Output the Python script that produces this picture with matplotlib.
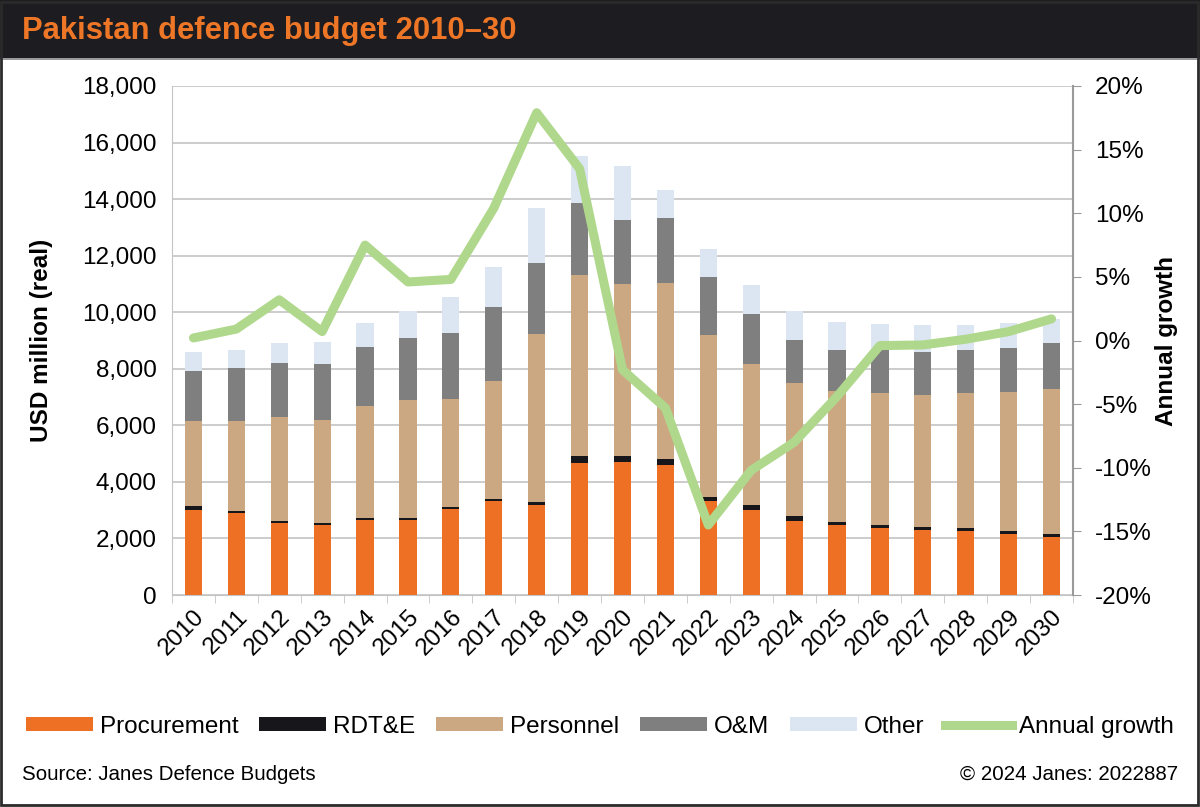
"""Pakistan defence budget 2010-30: stacked bars by category plus annual growth line."""
import matplotlib
matplotlib.use("Agg")
import matplotlib.pyplot as plt
import numpy as np
from matplotlib.patches import Rectangle
from matplotlib.lines import Line2D

plt.rcParams["font.family"] = ["Liberation Sans", "DejaVu Sans"]

years = [str(y) for y in range(2010, 2031)]

# USD million (real)
procurement = [3000, 2890, 2535, 2465, 2650, 2650, 3030, 3310, 3195, 4680, 4690,
               4595, 3335, 3005, 2630, 2475, 2355, 2300, 2265, 2155, 2040]
rdte = [130, 70, 70, 70, 70, 70, 70, 95, 95, 235, 235, 215, 140, 190, 165, 105,
        120, 105, 90, 95, 130]
personnel = [3030, 3205, 3675, 3655, 3975, 4175, 3820, 4150, 5940, 6410, 6060,
             6210, 5705, 4985, 4690, 4620, 4655, 4665, 4775, 4915, 5105]
om = [1770, 1865, 1935, 1990, 2065, 2205, 2355, 2630, 2510, 2525, 2275, 2300,
      2065, 1745, 1530, 1475, 1520, 1535, 1545, 1555, 1625]
other = [650, 620, 695, 765, 860, 930, 1250, 1415, 1945, 1675, 1900, 1010, 990,
         1025, 1040, 970, 945, 945, 875, 890, 850]

# annual growth, %
growth = [0.2, 0.9, 3.2, 0.7, 7.5, 4.6, 4.8, 10.4, 17.9, 13.5, -2.3, -5.3,
          -14.5, -10.2, -8.0, -4.4, -0.4, -0.35, 0.1, 0.7, 1.7]

series = [
    ("Procurement", procurement, "#EE7024"),
    ("RDT&E", rdte, "#17171b"),
    ("Personnel", personnel, "#CBA882"),
    ("O&M", om, "#7f7f7f"),
    ("Other", other, "#DCE6F2"),
]
GREEN = "#B0D88C"
GRID = "#c4c4c4"
FS = 17.5

fig = plt.figure(figsize=(12, 8.07), dpi=100)
fig.patch.set_facecolor("white")

# header band
fig.patches.append(Rectangle((0, 1 - 58 / 807), 1, 58 / 807, transform=fig.transFigure,
                             facecolor="#1c1c21", edgecolor="none", zorder=0))
fig.patches.append(Rectangle((0, 1 - 60 / 807), 1, 2 / 807, transform=fig.transFigure,
                             facecolor="#9a9a9a", edgecolor="none", zorder=0))
fig.patches.append(Rectangle((0.001, 0.002), 0.997, 0.996, transform=fig.transFigure,
                             facecolor="none", edgecolor="#2a2a2a", linewidth=2, zorder=5))
fig.text(22 / 1200, 1 - 31 / 807, "Pakistan defence budget 2010\u201330", color="#EE7627",
         fontsize=22.3, fontweight="bold", va="center", ha="left")

ax = fig.add_axes([172 / 1200, 1 - 595 / 807, (1073 - 172) / 1200, (595 - 86) / 807])
x = np.arange(len(years))
bottom = np.zeros(len(years))
handles = []
for name, vals, color in series:
    ax.bar(x, vals, width=0.4, bottom=bottom, color=color, zorder=2, label=name)
    bottom += np.array(vals)
    handles.append(Rectangle((0, 0), 1, 1, facecolor=color))

ax.set_xlim(-0.5, len(years) - 0.5)
ax.set_ylim(0, 18000)
ax.set_yticks(range(0, 18001, 2000))
ax.set_yticklabels([f"{v:,}" for v in range(0, 18001, 2000)], fontsize=FS)
ax.grid(axis="y", color=GRID, linewidth=1.2, zorder=0)
ax.set_axisbelow(True)
ax.set_xticks(x)
ax.set_xticklabels(years, rotation=45, ha="right", rotation_mode="anchor", fontsize=FS)
ax.set_xticks(np.arange(-0.5, len(years), 1), minor=True)
ax.tick_params(axis="x", which="major", length=0, pad=8)
ax.tick_params(axis="x", which="minor", length=6, color=GRID)
ax.tick_params(axis="y", length=0, pad=11)
ax.set_ylabel("USD million (real)", fontsize=FS, fontweight="bold", labelpad=21)
for side in ("top", "right"):
    ax.spines[side].set_visible(False)
ax.spines["left"].set_color(GRID)
ax.spines["bottom"].set_color(GRID)

ax2 = ax.twinx()
ax2.plot(x, growth, color=GREEN, linewidth=6.5, solid_joinstyle="round",
         solid_capstyle="round", zorder=3)
ax2.set_ylim(-20, 20)
ax2.set_yticks(range(-20, 21, 5))
ax2.set_yticklabels([f"{v}%" for v in range(-20, 21, 5)], fontsize=FS)
ax2.tick_params(axis="y", length=6, color="#9a9a9a", pad=10)
ax2.set_ylabel("Annual growth", fontsize=FS, fontweight="bold", labelpad=2)
for side in ("top", "left", "bottom"):
    ax2.spines[side].set_visible(False)
ax2.spines["right"].set_color("#9a9a9a")
ax2.spines["right"].set_linewidth(1.5)

handles.append(Line2D([0], [0], color=GREEN, linewidth=6.5))
labels = [s[0] for s in series] + ["Annual growth"]
fig.legend(handles, labels, loc="center", bbox_to_anchor=(0.5, 1 - 727 / 807), ncol=6,
           frameon=False, fontsize=FS, handlelength=2.75, handleheight=0.5,
           handletextpad=0.3, columnspacing=0.85)

fig.text(22 / 1200, 1 - 774 / 807, "Source: Janes Defence Budgets", fontsize=14.8,
         va="center", ha="left")
fig.text(1178 / 1200, 1 - 774 / 807, "\u00a9 2024 Janes: 2022887", fontsize=14.8,
         va="center", ha="right")

fig.savefig("out.png", dpi=100, facecolor=fig.get_facecolor())
